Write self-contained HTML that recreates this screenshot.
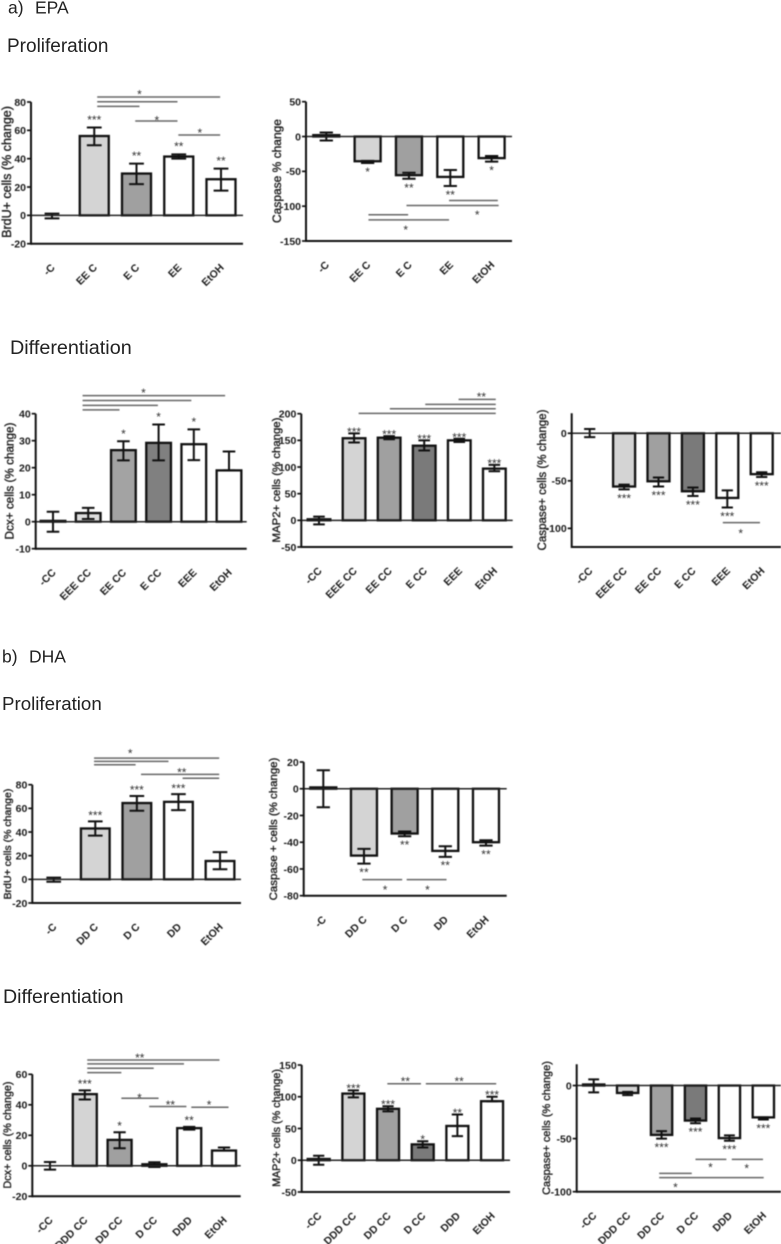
<!DOCTYPE html>
<html lang="en">
<head>
<meta charset="utf-8">
<title>EPA and DHA cell change charts</title>
<style>
html,body{margin:0;padding:0;background:#fff;width:781px;height:1244px;overflow:hidden}
svg{position:absolute;left:0;top:0;font-family:"Liberation Sans",Arial,sans-serif}
.head{font-size:19px;fill:#222}
.sec{font-size:17.5px;fill:#222}
.charts{filter:blur(0.45px)}
.tick,.cat{font-size:10.5px;font-weight:bold;fill:#1a1a1a}
.ttl{font-size:12px;fill:#1a1a1a;stroke:#1a1a1a;stroke-width:0.35px}
.star{font-size:12px;fill:#333}
</style>
</head>
<body>
<svg id="root" width="781" height="1244" viewBox="0 0 781 1244">
<text class="sec" y="13.3"><tspan x="8">a)</tspan><tspan x="35">EPA</tspan></text>
<text class="head" x="7" y="52">Proliferation</text>
<text class="head" x="10" y="354" style="font-size:19.8px">Differentiation</text>
<text class="sec" y="662.7"><tspan x="2">b)</tspan><tspan x="29">DHA</tspan></text>
<text class="head" x="2" y="710" style="font-size:18.7px">Proliferation</text>
<text class="head" x="3" y="1003" style="font-size:19.6px">Differentiation</text>
<g id="charts" class="charts"></g>
</svg>
<script>
/* EPA proliferation: BrdU */
const c1Categories = ['-C','EE C','E C','EE','EtOH'];
const c1Values = [0,56,29.5,41.5,25.5];
const c1ErrUpper = [1.2,62,36.5,43,33];
const c1ErrLower = [-2.1,49.5,22,40,17.5];
const c1Ticks = [80,60,40,20,0,-20];
const c1Stars = ['','***','**','**','**'];
const c1SigLines = [[1.07,3.98,83.5],[1.07,2.97,80.2],[1.07,2.07,76.9],[1.97,2.97,66.6],[2.99,3.98,56.7]];
const c1SigStars = [['*',2.07,87.5],['*',2.48,69.4],['*',3.5,60.5]];
const c1Fills = ['none','#d4d4d4','#a0a0a0','#fff','#fff'];

/* EPA proliferation: Caspase */
const c2Categories = ['-C','EE C','E C','EE','EtOH'];
const c2Values = [2,-35.5,-55.5,-58,-31];
const c2ErrUpper = [5.7,-35,-52,-48,-28];
const c2ErrLower = [-5.7,-38,-60.7,-71,-36];
const c2Ticks = [50,0,-50,-100,-150];
const c2Stars = ['','*','**','**','*'];
const c2SigLines = [[2.97,4.15,-91.9],[1.94,4.17,-99],[1.02,1.98,-112.4],[1.02,2.97,-119.6]];
const c2SigStars = [['*',3.65,-108],['*',1.92,-129.7]];
const c2Fills = ['none','#d4d4d4','#a0a0a0','#fff','#fff'];

/* EPA differentiation: Dcx */
const c3Categories = ['-CC','EEE CC','EE CC','E CC','EEE','EtOH'];
const c3Values = [0.3,3.2,26.5,29.2,28.7,19];
const c3ErrUpper = [3.7,5.1,29.8,36,34.2,26];
const c3ErrLower = [-3.7,1,22.7,22.7,22.8,19];
const c3Ticks = [40,30,20,10,0,-10];
const c3Stars = ['','','*','*','*',''];
const c3SigLines = [[0.84,4.89,46.7],[0.84,3.93,44.9],[0.84,2.98,43.1],[0.84,1.89,41.4]];
const c3SigStars = [['*',2.57,48.8]];
const c3Fills = ['none','#dddddd','#a3a3a3','#808080','#fff','#fff'];

/* EPA differentiation: MAP2 */
const c4Categories = ['-CC','EEE CC','EE CC','E CC','EEE','EtOH'];
const c4Values = [2,154,155,140,150,97];
const c4ErrUpper = [6.9,163,158,150,153,104];
const c4ErrLower = [-7.5,146,152,131,147,92];
const c4Ticks = [200,150,100,50,0,-50];
const c4Stars = ['','***','***','***','***','***'];
const c4SigLines = [[3.98,5.04,226.9],[3.03,5.04,217.5],[2.02,5.04,209.4],[1.13,5.04,200.6]];
const c4SigStars = [['**',4.63,237.5]];
const c4Fills = ['none','#d4d4d4','#a0a0a0','#7a7a7a','#fff','#fff'];

/* EPA differentiation: Caspase */
const c5Categories = ['-CC','EEE CC','EE CC','E CC','EEE','EtOH'];
const c5Values = [0,-56,-50.5,-61,-68,-43];
const c5ErrUpper = [4.5,-54,-46.5,-57,-60,-41];
const c5ErrLower = [-4,-59,-56,-66,-78,-46];
const c5Ticks = [0,-50,-100];
const c5Stars = ['','***','***','***','***','***'];
const c5SigLines = [[3.87,4.95,-94]];
const c5SigStars = [['*',4.39,-101.8]];
const c5Fills = ['none','#d4d4d4','#a0a0a0','#7a7a7a','#fff','#fff'];

/* DHA proliferation: BrdU */
const c6Categories = ['-C','DD C','D C','DD','EtOH'];
const c6Values = [0,43,64.5,65.5,15.5];
const c6ErrUpper = [1.5,49,70.5,72,23];
const c6ErrLower = [-2,37,58,58.5,8.5];
const c6Ticks = [80,60,40,20,0,-20];
const c6Stars = ['','***','***','***',''];
const c6SigLines = [[0.97,3.98,102.5],[0.97,2.76,99.7],[0.97,1.97,96.9],[2.1,3.98,88.7],[3.1,3.98,85.4]];
const c6SigStars = [['*',1.84,109.3],['**',3.08,93]];
const c6Fills = ['none','#d4d4d4','#a0a0a0','#fff','#fff'];

/* DHA proliferation: Caspase */
const c7Categories = ['-C','DD C','D C','DD','EtOH'];
const c7Values = [1,-50,-33.5,-46.5,-40];
const c7ErrUpper = [13.8,-45,-32,-43,-38.5];
const c7ErrLower = [-13.8,-56,-35.5,-51,-42.5];
const c7Ticks = [20,0,-20,-40,-60,-80];
const c7Stars = ['','**','**','**','**'];
const c7SigLines = [[0.96,1.94,-68],[2.05,3.03,-68]];
const c7SigStars = [['*',1.52,-73.3],['*',2.56,-73.3]];
const c7Fills = ['none','#d4d4d4','#a0a0a0','#fff','#fff'];

/* DHA differentiation: Dcx */
const c8Categories = ['-CC','DDD CC','DD CC','D CC','DDD','EtOH'];
const c8Values = [0,47,17,1,24.7,10];
const c8ErrUpper = [2.5,49.5,22,2.3,25.5,12];
const c8ErrLower = [-2.5,43.5,11.5,-0.8,23.7,10];
const c8Ticks = [60,40,20,0,-20];
const c8Stars = ['','***','*','','**',''];
const c8SigLines = [[1.07,4.87,69.4],[1.07,3.85,66.8],[1.07,2.98,64],[1.07,2.05,61.1],[2.05,3.12,44.3],[2.85,3.92,38.9],[4.06,5.13,38.4]];
const c8SigStars = [['**',2.58,72.7],['*',2.57,46.5],['**',3.46,41.9],['*',4.57,41.9]];
const c8Fills = ['none','#d4d4d4','#a0a0a0','#7a7a7a','#fff','#fff'];

/* DHA differentiation: MAP2 */
const c9Categories = ['-CC','DDD CC','DD CC','D CC','DDD','EtOH'];
const c9Values = [2,105,81,25,54,93];
const c9ErrUpper = [7,110,85,30,72,100];
const c9ErrLower = [-7,99,77,20,38,93];
const c9Ticks = [150,100,50,0,-50];
const c9Stars = ['','***','***','*','**','***'];
const c9SigLines = [[1.98,2.95,120.5],[3.09,5.12,120.5]];
const c9SigStars = [['**',2.5,129],['**',4.05,129]];
const c9Fills = ['none','#d4d4d4','#a0a0a0','#7a7a7a','#fff','#fff'];

/* DHA differentiation: Caspase */
const c10Categories = ['-CC','DDD CC','DD CC','D CC','DDD','EtOH'];
const c10Values = [1,-7,-46.5,-33,-49.5,-30];
const c10ErrUpper = [5.8,-6,-43,-31,-47,-30];
const c10ErrLower = [-6.5,-9,-50,-35.5,-52,-32];
const c10Ticks = [0,-50,-100];
const c10Stars = ['','','***','***','***','***'];
const c10SigLines = [[3,3.91,-69.5],[4.07,4.99,-69.5],[1.93,2.89,-82.7],[1.93,5.01,-86.8]];
const c10SigStars = [['*',3.44,-74.2],['*',4.51,-75.2],['*',2.41,-93]];
const c10Fills = ['none','#d4d4d4','#a0a0a0','#7a7a7a','#fff','#fff'];

const charts = [
  {slug:'epa-brdu',title:'BrdU+ cells (% change)',cats:c1Categories,vals:c1Values,up:c1ErrUpper,lo:c1ErrLower,ticks:c1Ticks,stars:c1Stars,sig:c1SigLines,sigStars:c1SigStars,fills:c1Fills,
   left:31,right:243,top:102,bottom:243.7,yMax:80,yMin:-20,x0:52,step:42.25,barW:29,titleX:7,titleCY:172,titleLen:132,gap:11},
  {slug:'epa-caspase',title:'Caspase % change',cats:c2Categories,vals:c2Values,up:c2ErrUpper,lo:c2ErrLower,ticks:c2Ticks,stars:c2Stars,sig:c2SigLines,sigStars:c2SigStars,fills:c2Fills,
   left:306,right:512,top:101.7,bottom:241,yMax:50,yMin:-150,x0:326.3,step:41.33,barW:26,titleX:277,titleCY:171,titleLen:104,gap:5.7},
  {slug:'epa-dcx',title:'Dcx+ cells (% change)',cats:c3Categories,vals:c3Values,up:c3ErrUpper,lo:c3ErrLower,ticks:c3Ticks,stars:c3Stars,sig:c3SigLines,sigStars:c3SigStars,fills:c3Fills,
   left:35.7,right:246.7,top:413.7,bottom:548.7,yMax:40,yMin:-10,x0:53,step:35.2,barW:24.7,titleX:10,titleCY:481,titleLen:117,gap:10.7},
  {slug:'epa-map2',title:'MAP2+ cells (% change)',cats:c4Categories,vals:c4Values,up:c4ErrUpper,lo:c4ErrLower,ticks:c4Ticks,stars:c4Stars,sig:c4SigLines,sigStars:c4SigStars,fills:c4Fills,
   left:301.3,right:512.7,top:413.7,bottom:547,yMax:200,yMin:-50,x0:319,step:35.07,barW:22.7,titleX:277,titleCY:480,titleLen:125,gap:4.7},
  {slug:'epa-caspase-positive',title:'Caspase+ cells (% change)',cats:c5Categories,vals:c5Values,up:c5ErrUpper,lo:c5ErrLower,ticks:c5Ticks,stars:c5Stars,sig:c5SigLines,sigStars:c5SigStars,fills:c5Fills,
   left:571.7,right:781,top:413.3,bottom:547,yMax:21,yMin:-119.6,x0:589.7,step:34.4,barW:22,titleX:543,titleCY:480,titleLen:141,gap:5.8},
  {slug:'dha-brdu',title:'BrdU+ cells (% change)',cats:c6Categories,vals:c6Values,up:c6ErrUpper,lo:c6ErrLower,ticks:c6Ticks,stars:c6Stars,sig:c6SigLines,sigStars:c6SigStars,fills:c6Fills,
   left:32.3,right:241,top:784.7,bottom:903,yMax:80,yMin:-20,x0:53.7,step:41.58,barW:28.7,titleX:8,titleCY:844,titleLen:111,gap:9},
  {slug:'dha-caspase',title:'Caspase + cells (% change)',cats:c7Categories,vals:c7Values,up:c7ErrUpper,lo:c7ErrLower,ticks:c7Ticks,stars:c7Stars,sig:c7SigLines,sigStars:c7SigStars,fills:c7Fills,
   left:303.7,right:506.7,top:762,bottom:895.7,yMax:20,yMin:-80,x0:323.3,step:40.67,barW:26,titleX:274,titleCY:829,titleLen:143,gap:5.5},
  {slug:'dha-dcx',title:'Dcx+ cells (% change)',cats:c8Categories,vals:c8Values,up:c8ErrUpper,lo:c8ErrLower,ticks:c8Ticks,stars:c8Stars,sig:c8SigLines,sigStars:c8SigStars,fills:c8Fills,
   left:32.3,right:240.7,top:1074.3,bottom:1196.3,yMax:60,yMin:-20,x0:50,step:34.8,barW:24,titleX:8,titleCY:1135,titleLen:107,gap:9.7},
  {slug:'dha-map2',title:'MAP2+ cells (% change)',cats:c9Categories,vals:c9Values,up:c9ErrUpper,lo:c9ErrLower,ticks:c9Ticks,stars:c9Stars,sig:c9SigLines,sigStars:c9SigStars,fills:c9Fills,
   left:301.7,right:510,top:1065,bottom:1192,yMax:150,yMin:-50,x0:318.7,step:34.67,barW:22,titleX:277,titleCY:1128,titleLen:118,gap:5},
  {slug:'dha-caspase-positive',title:'Caspase+ cells (% change)',cats:c10Categories,vals:c10Values,up:c10ErrUpper,lo:c10ErrLower,ticks:c10Ticks,stars:c10Stars,sig:c10SigLines,sigStars:c10SigStars,fills:c10Fills,
   left:576.7,right:781,top:1064.3,bottom:1191.7,yMax:20,yMin:-100,x0:593.7,step:33.93,barW:21.3,titleX:547,titleCY:1128,titleLen:134,gap:5.5}
];

const NS = 'http://www.w3.org/2000/svg';
function make(tag, parent, props) {
  const el = document.createElementNS(NS, tag);
  for (const k in props) el.setAttribute(k, props[k]);
  parent.appendChild(el);
  return el;
}
function drawLine(parent, x1, y1, x2, y2, color, width) {
  return make('line', parent, {x1:x1, y1:y1, x2:x2, y2:y2, stroke:color, 'stroke-width':width});
}
function nameOf(label) {
  return label.toLowerCase().replace(/[^a-z0-9]+/g, '-').replace(/^-|-$/g, '');
}

const holder = document.getElementById('charts');

charts.forEach(function (c) {
  const yScale = function (v) { return c.bottom - (v - c.yMin) / (c.yMax - c.yMin) * (c.bottom - c.top); };
  const xScale = function (i) { return c.x0 + i * c.step; };

  const g = make('g', holder, {});
  
  

  c.cats.forEach(function (cat, i) {
    const v = c.vals[i];
    const key = nameOf(cat);
    const y0 = yScale(0);
    const yv = yScale(v);
    const bar = make('rect', g, {
      x: xScale(i) - c.barW / 2,
      y: Math.min(y0, yv),
      width: c.barW,
      height: Math.abs(y0 - yv),
      fill: c.fills[i],
      stroke: '#111',
      'stroke-width': 2.3
    });
    
    

    const capHalf = c.barW * 0.255;
    const err = make('path', g, {
      d: 'M' + (xScale(i) - capHalf) + ' ' + yScale(c.up[i]) + 'H' + (xScale(i) + capHalf) +
         'M' + xScale(i) + ' ' + yScale(c.up[i]) + 'V' + yScale(c.lo[i]) +
         'M' + (xScale(i) - capHalf) + ' ' + yScale(c.lo[i]) + 'H' + (xScale(i) + capHalf),
      fill: 'none',
      stroke: '#111',
      'stroke-width': 2
    });
    
    

    if (c.stars[i]) {
      const neg = v < 0;
      const cy = neg ? yScale(c.lo[i]) + c.gap : yScale(c.up[i]) - c.gap;
      const star = make('text', g, {x: xScale(i), y: cy + 7.3, 'text-anchor': 'middle', 'class': 'star'});
      star.textContent = c.stars[i];
      
      
    }

    const lx = xScale(i) + 3.5;
    const ly = c.bottom + 24.5;
    const label = make('text', g, {x: lx, y: ly, 'text-anchor': 'end', 'class': 'cat', transform: 'rotate(-45 ' + lx + ' ' + ly + ')'});
    label.textContent = cat;
    
    
  });

  const zero = drawLine(g, c.left, yScale(0), c.right, yScale(0), '#222', 1.5);
  
  

  const baseLine = drawLine(g, c.left, c.bottom, c.right, c.bottom, '#111', 2);
  
  

  const yAxis = drawLine(g, c.left, c.top, c.left, c.bottom + 1, '#111', 2);
  
  

  c.ticks.forEach(function (t) {
    const mark = drawLine(g, c.left - 4, yScale(t), c.left, yScale(t), '#111', 1.7);
    
    
    const tl = make('text', g, {x: c.left - 5, y: yScale(t) + 3.8, 'text-anchor': 'end', 'class': 'tick'});
    tl.textContent = t;
    
    
  });

  const title = make('text', g, {
    x: c.titleX,
    y: c.titleCY,
    'text-anchor': 'middle',
    'dominant-baseline': 'central',
    'class': 'ttl',
    transform: 'rotate(-90 ' + c.titleX + ' ' + c.titleCY + ')'
  });
  title.textContent = c.title;
  
  
  title.style.fontSize = (12 * c.titleLen / title.getComputedTextLength()) + 'px';

  c.sig.forEach(function (s) {
    const line = drawLine(g, xScale(s[0]), yScale(s[2]), xScale(s[1]), yScale(s[2]), '#666', 1.5);
    
    
  });

  c.sigStars.forEach(function (s) {
    const st = make('text', g, {x: xScale(s[1]), y: yScale(s[2]) + 7.3, 'text-anchor': 'middle', 'class': 'star'});
    st.textContent = s[0];
    
    
  });
});
</script>
</body>
</html>
